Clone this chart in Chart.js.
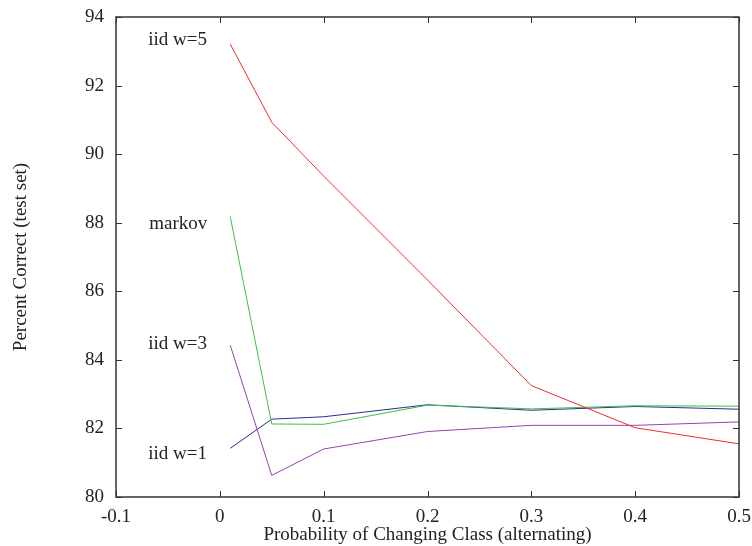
<!DOCTYPE html>
<html>
<head>
<meta charset="utf-8">
<script src="https://cdn.jsdelivr.net/npm/chart.js@4/dist/chart.umd.min.js"></script>
<style>
html,body{margin:0;padding:0;background:#fff;}
#wrap{width:752px;height:546px;position:relative;}
</style>
</head>
<body>
<div id="wrap"><canvas id="c" width="752" height="546"></canvas></div>
<script>
const xValues = [0.01, 0.05, 0.1, 0.2, 0.3, 0.4, 0.5];
const iidW5 = [93.21, 90.93, 89.36, 86.33, 83.25, 82.02, 81.55];
const markov = [88.18, 82.13, 82.12, 82.68, 82.57, 82.66, 82.65];
const iidW3 = [84.43, 80.63, 81.40, 81.91, 82.09, 82.09, 82.19];
const iidW1 = [81.42, 82.27, 82.34, 82.69, 82.53, 82.64, 82.56];
const seriesNames = ["iid w=5", "markov", "iid w=3", "iid w=1"];
const labelX = [-0.069, -0.068, -0.069, -0.069];
const labelY = [93.33, 87.96, 84.46, 81.26];
const xTicks = [-0.1, 0, 0.1, 0.2, 0.3, 0.4, 0.5];
const yTicks = [80, 82, 84, 86, 88, 90, 92, 94];

const FONT = "'Liberation Serif', 'Times New Roman', serif";
const FS = 19;
const toPts = ys => xValues.map((x, i) => ({x: x, y: ys[i]}));

const frame = {
  id: 'frame',
  afterDatasetsDraw(chart) {
    const ctx = chart.ctx, a = chart.chartArea;
    const xs = chart.scales.x, ys = chart.scales.y;
    ctx.save();
    ctx.strokeStyle = '#333';
    ctx.lineWidth = 1.5;
    ctx.strokeRect(a.left, a.top, a.right - a.left, a.bottom - a.top);
    ctx.lineWidth = 1;
    const L = 6;
    ctx.beginPath();
    xs.ticks.forEach(t => {
      const px = Math.round(xs.getPixelForValue(t.value)) + 0.5;
      ctx.moveTo(px, a.bottom); ctx.lineTo(px, a.bottom - L);
      ctx.moveTo(px, a.top); ctx.lineTo(px, a.top + L);
    });
    ys.ticks.forEach(t => {
      const py = Math.round(ys.getPixelForValue(t.value)) + 0.5;
      ctx.moveTo(a.left, py); ctx.lineTo(a.left + L, py);
      ctx.moveTo(a.right, py); ctx.lineTo(a.right - L, py);
    });
    ctx.stroke();
    ctx.fillStyle = '#222';
    ctx.font = FS + 'px ' + FONT;
    ctx.textAlign = 'left';
    ctx.textBaseline = 'middle';
    seriesNames.forEach((n, i) => {
      ctx.fillText(n, xs.getPixelForValue(labelX[i]), ys.getPixelForValue(labelY[i]));
    });
    ctx.restore();
  }
};

const mk = (label, data, color) => ({
  label, data: toPts(data), borderColor: color, backgroundColor: color,
  borderWidth: 1, pointRadius: 0, tension: 0, fill: false
});

new Chart(document.getElementById('c'), {
  type: 'line',
  data: {
    datasets: [
      mk(seriesNames[0], iidW5, '#f52a2a'),
      mk(seriesNames[1], markov, '#3fbf3f'),
      mk(seriesNames[2], iidW3, '#9b40b0'),
      mk(seriesNames[3], iidW1, '#2a2a9c')
    ]
  },
  options: {
    responsive: false,
    animation: false,
    devicePixelRatio: 1,
    layout: {autoPadding: false, padding: {left: 0, right: 13, top: 17, bottom: 0}},
    plugins: {legend: {display: false}, tooltip: {enabled: false}},
    scales: {
      x: {
        type: 'linear', min: -0.1, max: 0.5,
        afterBuildTicks: s => { s.ticks = xTicks.map(v => ({value: v})); },
        afterFit: s => { s.height = 49; s.paddingLeft = 0; s.paddingRight = 0; },
        grid: {display: false, drawTicks: false},
        border: {display: false},
        ticks: {
          color: '#222', padding: 9, maxRotation: 0,
          font: {family: FONT, size: FS},
          callback: v => String(Math.round(v * 10) / 10)
        },
        title: {display: true, text: 'Probability of Changing Class (alternating)', color: '#222',
          font: {family: FONT, size: FS}, padding: {top: 0, bottom: 0}}
      },
      y: {
        type: 'linear', min: 80, max: 94,
        afterBuildTicks: s => { s.ticks = yTicks.map(v => ({value: v})); },
        afterFit: s => { s.width = 116; s.paddingTop = 0; s.paddingBottom = 0; },
        grid: {display: false, drawTicks: false},
        border: {display: false},
        ticks: {
          color: '#222', padding: 12,
          font: {family: FONT, size: FS}
        },
        title: {display: true, text: 'Percent Correct (test set)', color: '#222',
          font: {family: FONT, size: FS}, padding: {top: 10, bottom: 0}}
      }
    }
  },
  plugins: [frame]
});
</script>
</body>
</html>
